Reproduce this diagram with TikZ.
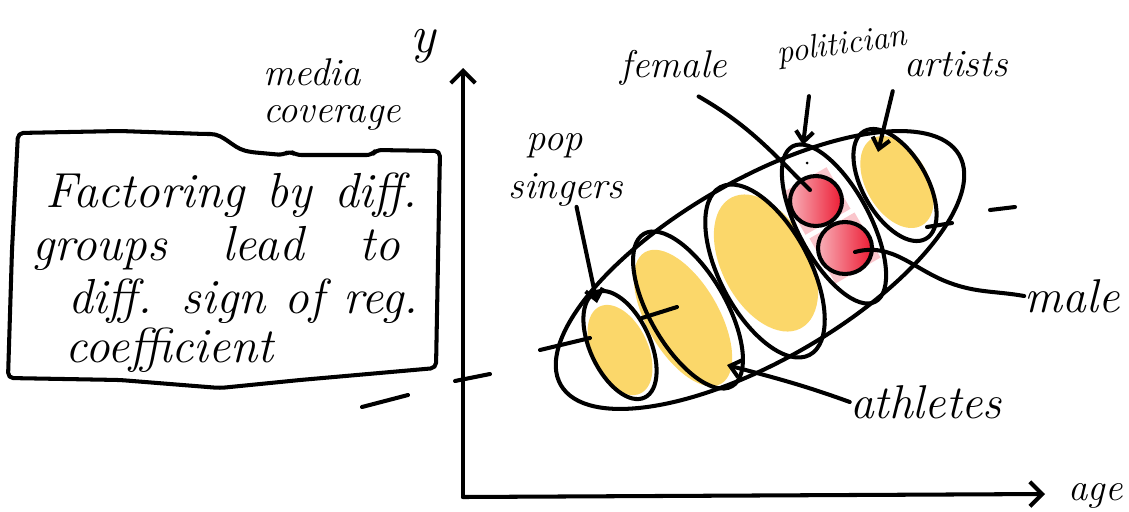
\documentclass[tikz,border=0pt]{standalone}
\usepackage{xcolor}
\definecolor{hlyellow}{RGB}{251,211,90}
\definecolor{hlred}{RGB}{236,28,52}
\usepackage{tikz}
\usetikzlibrary{arrows.meta, positioning}

\tikzset{
  pen/.style={line width=2.3pt, line cap=round, line join=round},
  hand/.style={font=\fontsize{22}{26}\selectfont\itshape, inner sep=0pt},
  bighand/.style={font=\fontsize{27}{31}\selectfont\itshape, inner sep=0pt},
  boxtext/.style={font=\fontsize{28}{32}\selectfont\itshape, inner sep=0pt, anchor=base west},
  marker/.style={fill=hlyellow, opacity=0.9},
  pointer/.style={pen, -{Straight Barb[length=6pt, width=10pt]}},
  axisarrow/.style={pen, -{Straight Barb[length=7pt, width=14pt]}}
}

\begin{document}
\begin{tikzpicture}[x=0.02cm, y=-0.02cm]
  \useasboundingbox (0,0) rectangle (1129,511);

  % --- Highlights (under the pen strokes) ---
  \fill[marker, rotate around={115:(620,350)}] (620,350) ellipse (48 and 28);
  \fill[marker, rotate around={120:(683,318)}] (683,318) ellipse (76 and 36);
  \fill[marker, rotate around={118:(766,263)}] (766,263) ellipse (74 and 44);
  \fill[marker, rotate around={120:(897,182)}] (897,182) ellipse (50 and 31);
  \fill[hlred!25, rotate around={30:(816,201)}] (790,177) rectangle (842,225);
  \fill[hlred!25, rotate around={30:(845,248)}] (819,222) rectangle (871,274);
  \shade[left color=hlred!35, right color=hlred] (816,201) ellipse (26 and 25);
  \shade[left color=hlred!35, right color=hlred] (845,248) ellipse (27 and 26);

  % --- Axes ---
  \coordinate (O) at (463,497);
  \coordinate (ytop) at (463,68);
  \coordinate (xend) at (1045,494);
  \draw[axisarrow] (O) -- (ytop);
  \draw[axisarrow] (O) -- (xend);
  \node[hand, font=\fontsize{30}{34}\selectfont\itshape] (ylab) at (423,46) {y};
  \node[hand, font=\fontsize{22}{26}\selectfont\itshape] (media) at (312,72) {media};
  \node[hand, font=\fontsize{22}{26}\selectfont\itshape] (coverage) at (332,118) {coverage};
  \node[hand, anchor=south west] (age) at (1068,509) {age};

  % stray ticks
  \draw[pen] (455,381) -- (490,374);
  \draw[pen] (362,407) -- (408,395);
  \draw[pen] (990,210) -- (1015,207);

  % --- Note box ---
  \draw[pen, rounded corners=3pt] (18,133) -- (120,131) -- (205,134)
    to[out=0, in=165] (250,152) -- (283,155) -- (290,151) -- (296,155)
    -- (372,155) -- (376,150) -- (440,151) -- (438,260) -- (436,368)
    -- (300,380) -- (220,388) -- (120,380) -- (8,378) -- (12,250) -- cycle;
  \node[boxtext] (line1) at (45,207) {\makebox[7.45cm][s]{Factoring by diff.}};
  \node[boxtext] (line2) at (32,260) {\makebox[7.35cm][s]{groups lead to}};
  \node[boxtext] (line3) at (68,313) {\makebox[7.0cm][s]{diff. sign of reg.}};
  \node[boxtext] (line4) at (65,362) {coefficient};

  % --- Groups ---
  \draw[pen, rotate around={30:(760,270)}] (760,270) ellipse (230 and 90);
  \draw[pen, rotate around={115:(620,345)}] (620,345) ellipse (58 and 30);
  \draw[pen, rotate around={120:(688,310)}] (688,310) ellipse (88 and 38);
  \draw[pen, rotate around={118:(765,271)}] (765,271) ellipse (95 and 45);
  \draw[pen, rotate around={118:(834,224)}] (834,224) ellipse (88 and 36);
  \draw[pen, rotate around={120:(895,185)}] (895,185) ellipse (62 and 32);
  \draw[pen] (816,201) ellipse (26 and 25);
  \draw[pen] (845,248) ellipse (27 and 26);
  \fill (807,163) circle (1.5);
  \draw[pen] (540,350) -- (590,338);
  \draw[pen] (642,318) -- (677,307);
  \draw[pen] (927,227) -- (952,223);

  % --- Labels and pointers ---
  \node[hand] (pop) at (555,146) {pop};
  \node[hand] (singers) at (566,190) {singers};
  \node[hand] (female) at (674,68) {female};
  \node[hand, font=\fontsize{19}{23}\selectfont\itshape, rotate=8] (politician) at (842,46) {politician};
  \node[hand] (artists) at (956,64) {artists};
  \node[bighand] (male) at (1072,296) {male};
  \node[bighand] (athletes) at (926,402) {athletes};

  \coordinate (popend) at (597,303);
  \coordinate (athend) at (727,365);
  \coordinate (polend) at (803,145);
  \coordinate (artend) at (878,152);
  \coordinate (femend) at (810,190);
  \coordinate (maleend) at (855,252);

  \draw[pointer] ([xshift=6pt]singers.south) -- (popend);
  \draw[pointer] (athletes.west) to[out=160, in=-15] (athend);
  \draw[pointer] ([xshift=-20pt, yshift=-20pt]politician.south) -- (polend);
  \draw[pointer] ([xshift=-36pt, yshift=-8pt]artists.south) -- (artend);
  \draw[pen] ([xshift=14pt, yshift=-6pt]female.south) to[out=-30, in=135] (femend);
  \draw[pen] (male.west) to[out=170, in=-20] (950,283) to[out=160, in=15] (maleend);
\end{tikzpicture}
\end{document}
